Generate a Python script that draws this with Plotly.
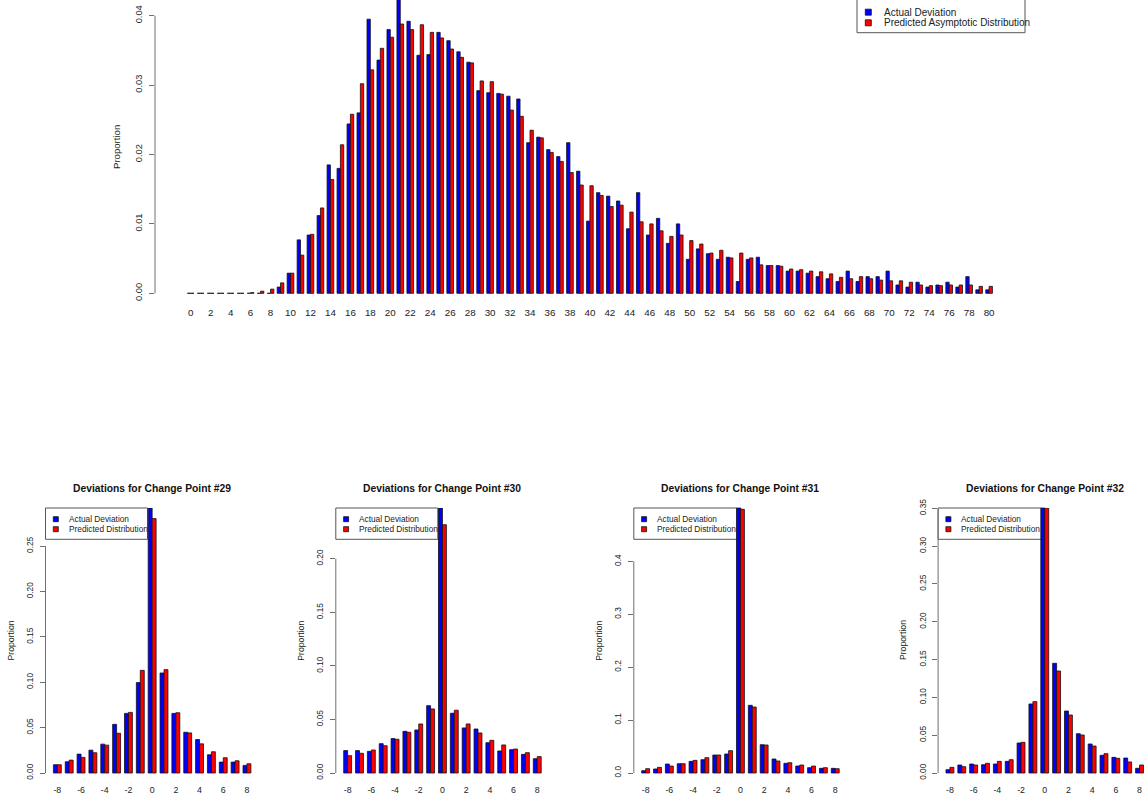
import plotly.graph_objects as go

W, H = 1144, 801
FONT = "Liberation Sans, Arial, Helvetica, sans-serif"
BLUE, RED = "#0000FF", "#FF0000"
INK = "#222222"
AXIS_GRAY = "#707070"

# ---------------- data ----------------
top_deviation = list(range(0, 81))
top_actual = [
    0.0, 0.0, 0.0, 0.0, 0.0, 0.0, 0.0, 0.0, 0.0, 0.0009,
    0.0029, 0.0077, 0.0084, 0.0112, 0.0185, 0.0180, 0.0244, 0.0260, 0.0395, 0.0336,
    0.0380, 0.0440, 0.0392, 0.0343, 0.0344, 0.0376, 0.0364, 0.0348, 0.0333, 0.0292,
    0.0289, 0.0288, 0.0284, 0.0280, 0.0217, 0.0225, 0.0207, 0.0197, 0.0217, 0.0176,
    0.0104, 0.0145, 0.0140, 0.0133, 0.0093, 0.0145, 0.0084, 0.0108, 0.0072, 0.0100,
    0.0049, 0.0064, 0.0057, 0.0049, 0.0052, 0.0017, 0.0049, 0.0052, 0.0040, 0.0040,
    0.0032, 0.0032, 0.0029, 0.0024, 0.0021, 0.0017, 0.0032, 0.0017, 0.0024, 0.0024,
    0.0032, 0.0012, 0.0009, 0.0016, 0.0009, 0.0012, 0.0016, 0.0009, 0.0024, 0.0005,
    0.0005,
]
top_predicted = [
    0.0, 0.0, 0.0, 0.0, 0.0, 0.0, 0.0001, 0.0003, 0.0006, 0.0015,
    0.0029, 0.0055, 0.0085, 0.0123, 0.0164, 0.0214, 0.0258, 0.0302, 0.0322, 0.0353,
    0.0369, 0.0388, 0.0380, 0.0387, 0.0376, 0.0368, 0.0352, 0.0340, 0.0332, 0.0306,
    0.0305, 0.0287, 0.0264, 0.0255, 0.0235, 0.0224, 0.0203, 0.0190, 0.0174, 0.0156,
    0.0155, 0.0141, 0.0125, 0.0127, 0.0117, 0.0103, 0.0100, 0.0090, 0.0082, 0.0084,
    0.0076, 0.0071, 0.0058, 0.0062, 0.0051, 0.0058, 0.0051, 0.0041, 0.0040, 0.0039,
    0.0035, 0.0034, 0.0032, 0.0031, 0.0028, 0.0023, 0.0021, 0.0024, 0.0021, 0.0019,
    0.0018, 0.0018, 0.0016, 0.0012, 0.0011, 0.0011, 0.0012, 0.0012, 0.0012, 0.0010,
    0.0010,
]
top_xticks = list(range(0, 81, 2))
top_yticks = [0.00, 0.01, 0.02, 0.03, 0.04]

cp_deviation = list(range(-8, 9))
cp_xticks = list(range(-8, 9, 2))
change_points = ["29", "30", "31", "32"]

cp29_actual = [0.0091, 0.0124, 0.0208, 0.0252, 0.0318, 0.0536, 0.0657, 0.0996, 0.2920,
               0.1102, 0.0657, 0.0449, 0.0369, 0.0201, 0.0120, 0.0120, 0.0084]
cp29_predicted = [0.0091, 0.0142, 0.0172, 0.0223, 0.0307, 0.0438, 0.0668, 0.1131, 0.2803,
                  0.1139, 0.0664, 0.0442, 0.0321, 0.0234, 0.0168, 0.0135, 0.0102]
cp30_actual = [0.0209, 0.0209, 0.0202, 0.0274, 0.0321, 0.0389, 0.0402, 0.0629, 0.2474,
               0.0558, 0.0421, 0.0411, 0.0283, 0.0206, 0.0218, 0.0174, 0.0134]
cp30_predicted = [0.0162, 0.0184, 0.0215, 0.0255, 0.0315, 0.0380, 0.0458, 0.0598, 0.2318,
                  0.0586, 0.0458, 0.0374, 0.0305, 0.0262, 0.0224, 0.0190, 0.0153]
cp31_actual = [0.0044, 0.0076, 0.0170, 0.0176, 0.0220, 0.0252, 0.0340, 0.0359, 0.5008,
               0.1279, 0.0535, 0.0265, 0.0183, 0.0132, 0.0101, 0.0088, 0.0088]
cp31_predicted = [0.0082, 0.0107, 0.0132, 0.0176, 0.0239, 0.0290, 0.0340, 0.0422, 0.4983,
                  0.1247, 0.0529, 0.0227, 0.0195, 0.0151, 0.0132, 0.0101, 0.0082]
cp32_actual = [0.0044, 0.0106, 0.0119, 0.0110, 0.0119, 0.0154, 0.0397, 0.0913, 0.3505,
               0.1451, 0.0820, 0.0520, 0.0384, 0.0234, 0.0207, 0.0198, 0.0062]
cp32_predicted = [0.0075, 0.0084, 0.0106, 0.0128, 0.0154, 0.0176, 0.0406, 0.0944, 0.3505,
                  0.1349, 0.0767, 0.0503, 0.0357, 0.0256, 0.0194, 0.0146, 0.0106]

cp_actual = [cp29_actual, cp30_actual, cp31_actual, cp32_actual]
cp_predicted = [cp29_predicted, cp30_predicted, cp31_predicted, cp32_predicted]
cp_yticks = [
    [0.00, 0.05, 0.10, 0.15, 0.20, 0.25],
    [0.00, 0.05, 0.10, 0.15, 0.20],
    [0.0, 0.1, 0.2, 0.3, 0.4],
    [0.00, 0.05, 0.10, 0.15, 0.20, 0.25, 0.30, 0.35],
]
cp_ytick_text = [
    ["0.00", "0.05", "0.10", "0.15", "0.20", "0.25"],
    ["0.00", "0.05", "0.10", "0.15", "0.20"],
    ["0.0", "0.1", "0.2", "0.3", "0.4"],
    ["0.00", "0.05", "0.10", "0.15", "0.20", "0.25", "0.30", "0.35"],
]


# ---------------- helpers (pixel -> paper) ----------------
def fx(px):
    return px / W


def fy(py):
    return 1 - py / H


fig = go.Figure()
shapes = []
annotations = []
layout_axes = {}


def bar_pair(x, actual, predicted, xa, ya):
    line = dict(color="#111111", width=0.8)
    fig.add_trace(go.Bar(x=x, y=actual, xaxis=xa, yaxis=ya, name="Actual Deviation",
                         marker=dict(color=BLUE, line=line), showlegend=False))
    fig.add_trace(go.Bar(x=x, y=predicted, xaxis=xa, yaxis=ya, name="Predicted",
                         marker=dict(color=RED, line=line), showlegend=False))


def legend_box(left, top, right, bottom, sq_dx, txt_dx, rows_y, labels, size, sq):
    shapes.append(dict(type="rect", xref="paper", yref="paper",
                       x0=fx(left), x1=fx(right), y0=fy(bottom), y1=fy(top),
                       line=dict(color="#555555", width=1), fillcolor="rgba(0,0,0,0)",
                       layer="below"))
    for ry, lab, col in zip(rows_y, labels, [BLUE, RED]):
        cx = left + sq_dx
        shapes.append(dict(type="rect", xref="paper", yref="paper",
                           x0=fx(cx - sq / 2), x1=fx(cx + sq / 2),
                           y0=fy(ry + sq / 2), y1=fy(ry - sq / 2),
                           line=dict(color="#111111", width=0.8), fillcolor=col))
        annotations.append(dict(text=lab, xref="paper", yref="paper",
                                x=fx(left + txt_dx), y=fy(ry), xanchor="left",
                                yanchor="middle", showarrow=False,
                                font=dict(family=FONT, size=size, color=INK)))


# ---------------- top panel ----------------
TOP_AXIS_PX = 155.0
TOP_PITCH = 9.98
TOP_ZERO_PY = 293.3
TOP_PX_PER_UNIT = 6940.0
TOP_RIGHT_PX = 1024.2
TOP_BOTTOM_PX = 295.0

bar_pair(top_deviation, top_actual, top_predicted, "x", "y")
x_left = top_deviation[0] - (190.7 - TOP_AXIS_PX) / TOP_PITCH
x_right = x_left + (TOP_RIGHT_PX - TOP_AXIS_PX) / TOP_PITCH
layout_axes["xaxis"] = dict(
    domain=[fx(TOP_AXIS_PX), fx(TOP_RIGHT_PX)], range=[x_left, x_right], anchor="y",
    tickvals=top_xticks, ticktext=[str(v) for v in top_xticks],
    showline=False, showgrid=False, zeroline=False, ticks="", ticklabelstandoff=10,
    tickfont=dict(family=FONT, size=9.8, color=INK), automargin=False,
)
layout_axes["yaxis"] = dict(
    domain=[fy(TOP_BOTTOM_PX), 1.0],
    range=[-(TOP_BOTTOM_PX - TOP_ZERO_PY) / TOP_PX_PER_UNIT, TOP_ZERO_PY / TOP_PX_PER_UNIT],
    anchor="x", tickvals=top_yticks, ticktext=["%.2f" % v for v in top_yticks],
    tickangle=-90, ticks="outside", ticklen=5, tickwidth=1, tickcolor=AXIS_GRAY,
    ticklabelstandoff=3,
    showline=False, showgrid=False, zeroline=False,
    tickfont=dict(family=FONT, size=9.3, color=INK), automargin=False,
)
shapes.append(dict(type="line", xref="paper", yref="y", x0=fx(TOP_AXIS_PX), x1=fx(TOP_AXIS_PX),
                   y0=top_yticks[0], y1=top_yticks[-1], line=dict(color=AXIS_GRAY, width=1)))
annotations.append(dict(text="Proportion", xref="paper", yref="paper", x=fx(116), y=fy(147),
                        textangle=-90, showarrow=False, xanchor="center", yanchor="middle",
                        font=dict(family=FONT, size=9.6, color=INK)))
legend_box(857.0, -3.0, 1025.0, 32.7, 11.3, 24.5, [12.2, 22.8],
           ["Actual Deviation", "Predicted Asymptotic Distribution"], 10, 6)

# ---------------- change point panels ----------------
CP_AXIS_PX = [45.5, 335.8, 633.8, 938.1]
CP_LEGEND_W = [102, 102, 107, 107]
CP_PITCH = 11.85
CP_TOP_PY = 508.0
CP_ZERO_PY = 773.0
CP_BOTTOM_PY = 774.5

for i, cp in enumerate(change_points):
    n = i + 2
    xa, ya = "x%d" % n, "y%d" % n
    bar_pair(cp_deviation, cp_actual[i], cp_predicted[i], xa, ya)
    ax = CP_AXIS_PX[i]
    right_px = min(ax + 18 * CP_PITCH, W)
    xl = cp_deviation[0] - 1
    xr = xl + (right_px - ax) / CP_PITCH
    ymax = max(max(cp_actual[i]), max(cp_predicted[i]))
    per_px = ymax / (CP_ZERO_PY - CP_TOP_PY)
    layout_axes["xaxis%d" % n] = dict(
        domain=[fx(ax), fx(right_px)], range=[xl, xr], anchor=ya,
        tickvals=cp_xticks, ticktext=[str(v) for v in cp_xticks],
        showline=False, showgrid=False, zeroline=False, ticks="", ticklabelstandoff=9,
        tickfont=dict(family=FONT, size=8.8, color=INK), automargin=False,
    )
    layout_axes["yaxis%d" % n] = dict(
        domain=[fy(CP_BOTTOM_PY), fy(CP_TOP_PY)],
        range=[-(CP_BOTTOM_PY - CP_ZERO_PY) * per_px, ymax], anchor=xa,
        tickvals=cp_yticks[i], ticktext=cp_ytick_text[i],
        tickangle=-90, ticks="outside", ticklen=5, tickwidth=1, tickcolor=AXIS_GRAY,
        ticklabelstandoff=3,
        showline=False, showgrid=False, zeroline=False,
        tickfont=dict(family=FONT, size=8.3, color=INK), automargin=False,
    )
    shapes.append(dict(type="line", xref="paper", yref=ya, x0=fx(ax), x1=fx(ax),
                       y0=cp_yticks[i][0], y1=cp_yticks[i][-1],
                       line=dict(color=AXIS_GRAY, width=1)))
    annotations.append(dict(text="<b>Deviations for Change Point #%s</b>" % cp,
                            xref="paper", yref="paper", x=fx(ax + 9 * CP_PITCH), y=fy(488),
                            showarrow=False, xanchor="center", yanchor="middle",
                            font=dict(family=FONT, size=10.3, color="#111111")))
    annotations.append(dict(text="Proportion", xref="paper", yref="paper", x=fx(ax - 35.5),
                            y=fy((CP_TOP_PY + CP_ZERO_PY) / 2), textangle=-90, showarrow=False,
                            xanchor="center", yanchor="middle",
                            font=dict(family=FONT, size=8.7, color=INK)))
    legend_box(ax, CP_TOP_PY, ax + CP_LEGEND_W[i], 539.3, 10.3, 21.0, [519.2, 529.2],
               ["Actual Deviation", "Predicted Distribution"], 8.3, 5)

fig.update_layout(
    width=W, height=H, margin=dict(l=0, r=0, t=0, b=0),
    paper_bgcolor="white", plot_bgcolor="white",
    barmode="group", bargap=1 / 3, bargroupgap=0,
    showlegend=False, shapes=shapes, annotations=annotations,
    font=dict(family=FONT, color=INK),
    **layout_axes,
)

fig.write_html("out.html")
